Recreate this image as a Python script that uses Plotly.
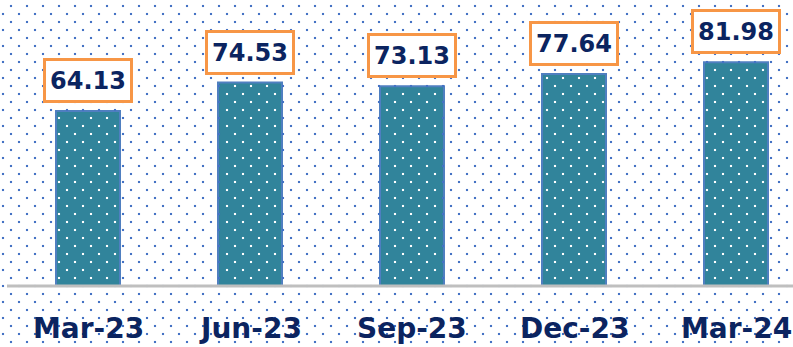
import numpy as np
import plotly.graph_objects as go

# Quarterly values
categories = ["Mar-23", "Jun-23", "Sep-23", "Dec-23", "Mar-24"]
values = [64.13, 74.53, 73.13, 77.64, 81.98]

W, H = 793, 347
NAVY = "#0B2460"
TEAL = "#31849B"
BAR_EDGE = "#4F7FC0"
DOT_BLUE = "#4472C4"
ORANGE = "#F79646"
FONT = "DejaVu Sans"

# Pixel geometry of the plotting area (the subplot fills the whole page)
x0_px, x_scale = 88.0, 162.0      # px of category 0, px per category
y0_px, y_scale = 286.0, 2.73      # px of value 0, px per unit
bar_width = 0.395

x_range = [(0 - x0_px) / x_scale, (W - x0_px) / x_scale]
y_range = [(y0_px - H) / y_scale, (y0_px - 0) / y_scale]

xs = list(range(len(categories)))

fig = go.Figure()

fig.add_trace(go.Bar(
    x=xs, y=values, width=bar_width,
    marker=dict(color=TEAL, line=dict(color=BAR_EDGE, width=2)),
    hoverinfo="skip",
))

# Staggered dot texture over the whole page: blue on white, white on the bars
px_list, py_list, colors = [], [], []
for r, py in enumerate(np.arange(6, H, 8.0)):
    start = 11 if r % 2 == 0 else 3
    for px in np.arange(start, W, 16.0):
        dx = (px - x0_px) / x_scale
        dy = (y0_px - py) / y_scale
        k = int(round(dx))
        inside = (0 <= k < len(values)) and abs(dx - k) < bar_width / 2 - 0.012 \
            and 0 < dy < values[k] - 0.6
        px_list.append(dx)
        py_list.append(dy)
        colors.append("white" if inside else DOT_BLUE)

fig.add_trace(go.Scatter(
    x=px_list, y=py_list, mode="markers",
    marker=dict(symbol="square", size=2.1, color=colors, line=dict(width=0)),
    hoverinfo="skip",
))

# Baseline
fig.add_shape(type="line", xref="paper", yref="y",
              x0=7 / W, x1=1, y0=0, y1=0,
              line=dict(color="#BFBFBF", width=3), layer="above")

# Boxed value labels
for i, v in enumerate(values):
    fig.add_annotation(
        x=i, y=v, xref="x", yref="y", yanchor="bottom", yshift=8,
        text=f"<b>{v:.2f}</b>", showarrow=False,
        font=dict(family=FONT, size=24, color=NAVY),
        bgcolor="white", bordercolor=ORANGE, borderwidth=3, borderpad=3,
        width=78, height=33,
    )

# Category labels
for i, c in enumerate(categories):
    fig.add_annotation(
        x=i, y=(y0_px - 328) / y_scale, xref="x", yref="y",
        text=f"<b>{c}</b>", showarrow=False,
        font=dict(family=FONT, size=28, color=NAVY),
    )

fig.update_layout(
    width=W, height=H,
    margin=dict(l=0, r=0, t=0, b=0),
    paper_bgcolor="white", plot_bgcolor="rgba(0,0,0,0)",
    showlegend=False,
    xaxis=dict(range=x_range, visible=False, fixedrange=True),
    yaxis=dict(range=y_range, visible=False, fixedrange=True),
)

fig.write_html("out.html", config={"displayModeBar": False})
